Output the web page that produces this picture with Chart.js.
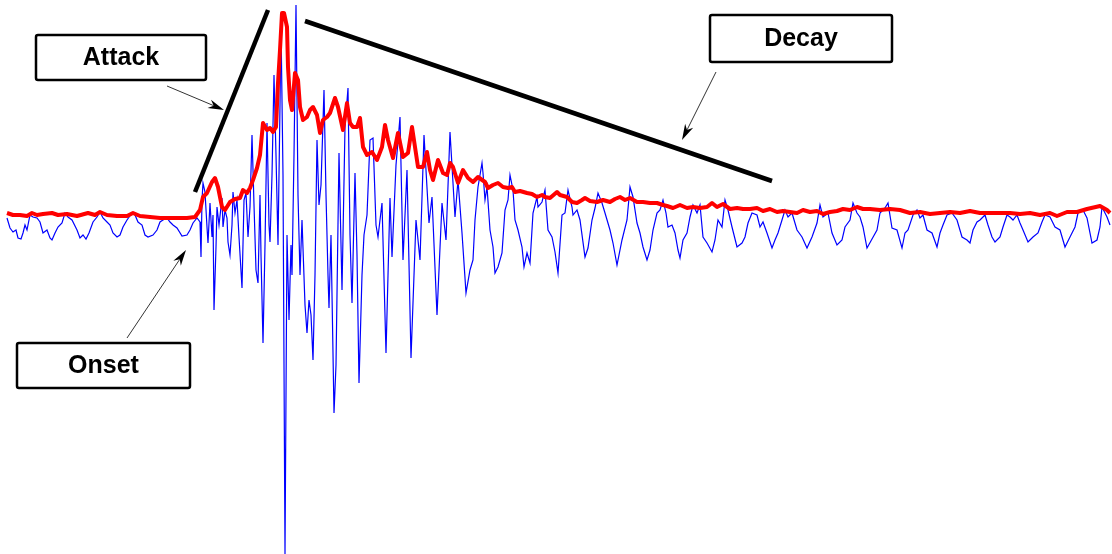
<!DOCTYPE html>
<html>
<head>
<meta charset="utf-8">
<script src="https://cdn.jsdelivr.net/npm/chart.js@4.4.1/dist/chart.umd.min.js"></script>
<style>
  html, body { margin: 0; padding: 0; background: #fff; }
  #wrap { width: 1112px; height: 554px; }
</style>
</head>
<body>
<div id="wrap"><canvas id="envChart" width="1112" height="554"></canvas></div>
<script>
// raw signal (blue): time in ms, amplitude in arbitrary units
const waveTime = [
  7, 10, 13, 16, 18, 21, 23, 25, 27, 30, 33, 37, 40, 43, 47, 50, 52, 55, 58, 62,
  65, 68, 72, 77, 80, 83, 86, 89, 93, 97, 100, 103, 107, 110, 113, 117, 120, 123, 127, 132,
  135, 138, 142, 145, 148, 153, 157, 160, 163, 167, 170, 173, 177, 182, 187, 190, 193, 197,
  200, 201, 202, 203, 205, 207, 208, 210, 212, 213, 214, 216, 217, 219, 222, 223, 225, 227, 228, 230,
  232, 233, 235, 237, 239, 242, 244, 246, 248, 250, 252, 254, 256, 258, 260, 261, 263, 265, 267, 269,
  270, 272, 274, 276, 278, 280, 281, 283, 285, 287, 289, 291, 292, 294, 296, 298, 300, 302, 305, 307,
  309, 311, 313, 315, 317, 319, 321, 324, 326, 328, 329, 331, 334, 336, 339, 342, 345, 348, 350, 352,
  355, 357, 359, 362, 364, 367, 370, 373, 376, 378, 382, 386, 390, 392, 396, 400, 403, 407, 411, 416,
  420, 424, 429, 432, 437, 442, 446, 450, 455, 458, 462, 466, 470, 473, 475, 478, 482, 483, 485, 487,
  490, 493, 495, 498, 502, 505, 508, 510, 513, 515, 518, 522, 524, 527, 530, 533, 537, 538, 542, 545,
  548, 552, 555, 558, 562, 565, 568, 572, 573, 577, 580, 585, 588, 592, 595, 598, 602, 605, 610, 613,
  617, 622, 627, 630, 633, 637, 640, 643, 647, 650, 653, 657, 660, 663, 666, 668, 672, 675, 678, 680,
  683, 687, 690, 693, 697, 700, 703, 707, 712, 715, 718, 722, 725, 728, 732, 737, 742, 745, 748, 752,
  757, 760, 763, 767, 772, 775, 778, 782, 785, 788, 792, 797, 802, 807, 812, 817, 820, 823, 828, 832,
  837, 842, 845, 850, 853, 857, 860, 863, 867, 872, 877, 880, 885, 888, 892, 897, 902, 905, 908, 913,
  917, 920, 923, 927, 932, 937, 940, 943, 947, 952, 957, 962, 967, 970, 973, 977, 980, 985, 988, 992,
  995, 1000, 1003, 1007, 1010, 1013, 1017, 1020, 1023, 1028, 1033, 1038, 1042, 1045, 1050, 1055, 1060, 1065, 1070, 1075,
  1078, 1083, 1087, 1092, 1097, 1100, 1102, 1107, 1110
];
const waveAmp = [
  -3, -13, -17, -15, -23, -24, -18, -10, -15, 0, -2, -3, -7, -18, -15, -23, -25, -18, -12, -8,
  2, -2, -5, -15, -23, -20, -24, -18, -7, -2, 3, -3, -7, -10, -18, -22, -20, -12, -5, 2,
  0, -7, -10, -20, -22, -20, -15, -7, -5, -3, -7, -10, -13, -21, -20, -15, -8, -3,
  -7, -42, 15, 32, 23, -12, -28, 12, -22, 0, -95, -32, 8, -10, 17, -12, 5, -3, -27, -40,
  -10, 23, 2, 15, -22, -73, 15, 22, -22, 8, 80, 10, -55, -68, 20, -40, -128, -30, 92, -10,
  -27, 40, 140, 60, -30, 110, 190, 40, -339, -20, -105, -30, -60, 60, 210, 20, -60, -5, -90, -118,
  -85, -100, -145, -60, 75, 10, 30, 125, 20, -60, -93, -20, -198, -150, 62, -75, 88, 127, -20, -88,
  42, -40, -168, -60, -20, 0, 75, 77, -10, -22, 12, -138, 17, -42, 50, 98, -45, 45, -143, -5,
  -45, 80, -8, 18, -100, 12, -25, 83, -2, 35, -18, -78, -55, -45, -5, 28, 52, 42, 15, 28,
  -15, -32, -58, -52, -38, 5, 15, 40, 25, -5, -15, -32, -52, -38, -48, 2, 18, 8, 13, 25,
  -15, -22, -37, -58, 0, 2, 25, 8, 0, 5, -5, -42, -33, -5, 7, 22, 12, 2, -15, -28,
  -50, -25, -5, 28, 18, -8, -18, -32, -45, -35, -15, 2, 5, 15, 2, -12, -10, -18, -35, -43,
  -25, -18, -2, 10, 2, 10, -22, -28, -37, -25, -5, -12, 15, 5, -12, -32, -28, -22, -8, 2,
  0, -12, -7, -18, -33, -25, -18, -5, 5, -2, 2, -15, -22, -33, -22, -8, 10, -2, 2, -18,
  -30, -25, -12, -5, 12, 2, -2, -12, -33, -24, -15, 2, 7, 12, -13, -15, -33, -18, -15, 0,
  5, -3, 0, -15, -18, -32, -18, -10, 0, 2, -5, -22, -25, -28, -15, -7, -5, 0, -10, -22,
  -27, -22, -12, 0, -2, -5, 0, -8, -15, -27, -22, -18, -7, 0, -2, -12, -15, -32, -22, -12,
  2, 5, -3, -28, -25, -12, 8, -2, -10
];

// smoothed envelope (red)
const envTime = [
  7, 13, 20, 27, 32, 37, 43, 52, 58, 67, 77, 88, 95, 100, 107, 117, 127, 133, 140, 150,
  160, 167, 173, 180, 187, 195, 200, 203, 207, 212, 215, 218, 222, 225, 230, 235, 240, 243, 247, 250,
  253, 257, 260, 263, 267, 270, 273, 276, 278, 280, 282, 284, 287, 288, 290, 292, 295, 298, 300, 303,
  307, 310, 313, 317, 320, 323, 327, 330, 335, 338, 343, 347, 350, 353, 357, 360, 363, 367, 372, 377,
  382, 385, 388, 393, 398, 403, 408, 412, 415, 418, 423, 427, 430, 433, 438, 443, 447, 450, 453, 458,
  463, 468, 473, 478, 485, 488, 493, 498, 503, 508, 512, 515, 520, 527, 532, 537, 542, 545, 550, 557,
  560, 567, 572, 577, 582, 585, 590, 597, 603, 610, 615, 620, 625, 630, 637, 643, 650, 657, 663, 667,
  673, 680, 687, 693, 700, 707, 712, 717, 723, 730, 737, 743, 750, 757, 763, 770, 777, 783, 790, 797,
  803, 810, 817, 823, 830, 837, 843, 850, 857, 863, 870, 880, 890, 900, 910, 920, 930, 940, 950, 960,
  970, 980, 990, 1000, 1010, 1020, 1030, 1040, 1050, 1057, 1067, 1077, 1087, 1100, 1107, 1110
];
const envAmp = [
  2, 0, 0, -1, 2, 0, 1, 2, 0, 1, -1, 2, 0, 3, 0, -1, -1, 2, -1, -2,
  -3, -3, -3, -3, -3, -2, 5, 18, 22, 33, 37, 28, 8, 5, 13, 16, 17, 25, 22, 27,
  35, 47, 60, 92, 85, 87, 83, 88, 132, 165, 202, 202, 188, 148, 115, 105, 142, 135, 108, 95,
  98, 105, 108, 100, 82, 95, 98, 102, 117, 108, 85, 112, 92, 88, 88, 97, 68, 60, 63, 55,
  68, 90, 75, 57, 82, 58, 62, 88, 68, 48, 48, 63, 45, 35, 55, 42, 40, 52, 48, 32,
  45, 37, 33, 38, 33, 27, 30, 32, 28, 27, 28, 23, 24, 22, 21, 18, 20, 18, 17, 23,
  20, 18, 13, 12, 15, 17, 14, 13, 15, 13, 16, 18, 15, 17, 13, 13, 12, 12, 10, 9,
  7, 10, 7, 8, 7, 8, 12, 8, 11, 6, 7, 6, 6, 7, 4, 6, 3, 4, 3, 2,
  5, 3, 4, 1, 3, 4, 6, 5, 8, 6, 6, 5, 6, 5, 2, 3, 1, 2, 3, 2,
  4, 2, 2, 2, 2, 1, 2, 0, 2, -1, 3, 3, 6, 9, 5, 2
];

// attack / decay guide lines
const attackTime = [195, 268];
const attackAmp = [23, 205];
const decayTime = [305, 772];
const decayAmp = [194, 34];

// callout boxes and arrows, in axis units
const callouts = [
  { text: 'Attack', x0: 36, x1: 206, y0: 180, y1: 135, from: [167, 129], to: [224, 105] },
  { text: 'Decay', x0: 710, x1: 892, y0: 200, y1: 153, from: [716, 143], to: [682, 75] },
  { text: 'Onset', x0: 17, x1: 190, y0: -128, y1: -173, from: [127, -123], to: [186, -35] }
];

function toPoints(times, amps) {
  return times.map((t, i) => ({ x: t, y: amps[i] }));
}

const calloutPlugin = {
  id: 'callouts',
  afterDatasetsDraw(chart) {
    const ctx = chart.ctx;
    const xs = chart.scales.x;
    const ys = chart.scales.y;
    ctx.save();
    callouts.forEach(c => {
      // arrow
      const ax = xs.getPixelForValue(c.from[0]);
      const ay = ys.getPixelForValue(c.from[1]);
      const bx = xs.getPixelForValue(c.to[0]);
      const by = ys.getPixelForValue(c.to[1]);
      const ang = Math.atan2(by - ay, bx - ax);
      const head = 16;
      ctx.strokeStyle = '#333';
      ctx.lineWidth = 1;
      ctx.beginPath();
      ctx.moveTo(ax, ay);
      ctx.lineTo(bx - Math.cos(ang) * head * 0.7, by - Math.sin(ang) * head * 0.7);
      ctx.stroke();
      ctx.fillStyle = '#000';
      ctx.beginPath();
      ctx.moveTo(bx, by);
      ctx.lineTo(bx - head * Math.cos(ang) + 4.5 * Math.sin(ang), by - head * Math.sin(ang) - 4.5 * Math.cos(ang));
      ctx.lineTo(bx - head * 0.7 * Math.cos(ang), by - head * 0.7 * Math.sin(ang));
      ctx.lineTo(bx - head * Math.cos(ang) - 4.5 * Math.sin(ang), by - head * Math.sin(ang) + 4.5 * Math.cos(ang));
      ctx.closePath();
      ctx.fill();

      // box
      const left = xs.getPixelForValue(c.x0);
      const right = xs.getPixelForValue(c.x1);
      const top = ys.getPixelForValue(c.y0);
      const bottom = ys.getPixelForValue(c.y1);
      ctx.fillStyle = '#fff';
      ctx.strokeStyle = '#000';
      ctx.lineWidth = 2.5;
      ctx.beginPath();
      ctx.roundRect(left, top, right - left, bottom - top, 2);
      ctx.fill();
      ctx.stroke();
      ctx.fillStyle = '#000';
      ctx.font = 'bold 25px "Liberation Sans", Arial, sans-serif';
      ctx.textAlign = 'center';
      ctx.textBaseline = 'middle';
      ctx.fillText(c.text, (left + right) / 2, (top + bottom) / 2 + 1);
    });
    ctx.restore();
  }
};

new Chart(document.getElementById('envChart'), {
  type: 'line',
  data: {
    datasets: [
      {
        label: 'Attack',
        data: toPoints(attackTime, attackAmp),
        borderColor: '#000',
        borderWidth: 4.5,
        order: 0
      },
      {
        label: 'Decay',
        data: toPoints(decayTime, decayAmp),
        borderColor: '#000',
        borderWidth: 4.5,
        order: 0
      },
      {
        label: 'Envelope',
        data: toPoints(envTime, envAmp),
        borderColor: '#ff0000',
        borderWidth: 4,
        borderJoinStyle: 'round',
        order: 1
      },
      {
        label: 'Signal',
        data: toPoints(waveTime, waveAmp),
        borderColor: '#0000ff',
        borderWidth: 1.2,
        order: 2
      }
    ]
  },
  options: {
    responsive: false,
    animation: false,
    events: [],
    layout: { padding: 0 },
    elements: {
      point: { radius: 0 },
      line: { tension: 0, fill: false }
    },
    plugins: {
      legend: { display: false },
      tooltip: { enabled: false }
    },
    scales: {
      x: { type: 'linear', min: 0, max: 1112, display: false },
      y: { type: 'linear', min: -339, max: 215, display: false }
    }
  },
  plugins: [calloutPlugin]
});
</script>
</body>
</html>
